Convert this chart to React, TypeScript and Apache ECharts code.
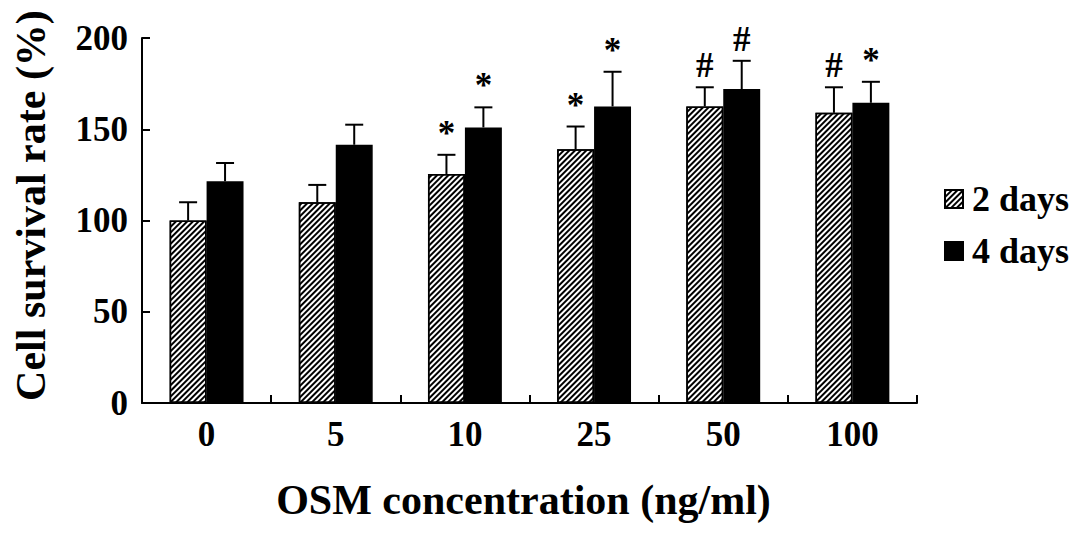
import React, { useEffect, useRef } from 'react';
import * as echarts from 'echarts';

const categories = ['0', '5', '10', '25', '50', '100'];
const days2 = [100, 110, 125.5, 139, 162.5, 159];
const days2Err = [10, 9.5, 10.5, 12.5, 10.5, 14];
const days4 = [121.5, 141.5, 151, 162.5, 172, 164.5];
const days4Err = [10, 11, 11, 19, 15.5, 11.5];
const days2Marks = ['', '', '*', '*', '#', '#'];
const days4Marks = ['', '', '*', '*', '#', '*'];
const seriesNames = ['2 days', '4 days'];
const yMin = 0;
const yMax = 200;
const yStep = 50;

const FONT = '"Liberation Serif", "Times New Roman", serif';
const BAR_RATIO = 0.286;

function errRender(sign: number, marks: string[]) {
  return (params: any, api: any) => {
    const i = api.value(0);
    const v = api.value(1);
    const e = api.value(2);
    const band = api.size([1, 0])[0];
    const dx = (sign * band * BAR_RATIO) / 2;
    const base = api.coord([i, v]);
    const top = api.coord([i, v + e]);
    const x = base[0] + dx;
    const children: any[] = [
      { type: 'line', shape: { x1: x, y1: base[1], x2: x, y2: top[1] }, style: { stroke: '#000', lineWidth: 2 } },
      { type: 'line', shape: { x1: x - 9, y1: top[1], x2: x + 9, y2: top[1] }, style: { stroke: '#000', lineWidth: 2 } },
    ];
    const m = marks[params.dataIndex];
    if (m) {
      children.push({
        type: 'text',
        x,
        y: top[1] - 4,
        style: {
          text: m,
          fill: '#000',
          fontSize: 35,
          fontWeight: 'bold',
          fontFamily: FONT,
          align: 'center',
          verticalAlign: 'bottom',
        },
      });
    }
    return { type: 'group', children };
  };
}

export default function App() {
  const ref = useRef<HTMLDivElement>(null);
  useEffect(() => {
    if (!ref.current) return;
    const chart = echarts.init(ref.current, null, { renderer: 'svg' });
    const labelStyle = { fontSize: 35, fontWeight: 'bold' as const, fontFamily: FONT, color: '#000' };
    chart.setOption({
      animation: false,
      backgroundColor: '#fff',
      grid: { left: 142, right: 170, top: 38, bottom: 132, containLabel: false },
      legend: {
        data: seriesNames,
        orient: 'vertical',
        left: 939,
        top: 176,
        icon: 'rect',
        itemWidth: 18,
        itemHeight: 18,
        itemGap: 16,
        textStyle: { ...labelStyle, fontSize: 36, padding: [0, 0, 0, 4] },
      },
      xAxis: {
        type: 'category',
        data: categories,
        boundaryGap: true,
        axisLine: { lineStyle: { color: '#000', width: 2 } },
        axisTick: { show: true, inside: true, length: 8, alignWithLabel: false, lineStyle: { color: '#000', width: 2 } },
        axisLabel: { ...labelStyle, margin: 14 },
        name: 'OSM concentration (ng/ml)',
        nameLocation: 'middle',
        nameGap: 76,
        nameTextStyle: { fontSize: 42, fontWeight: 'bold', fontFamily: FONT, color: '#000', padding: [0, 12, 0, 0] },
      },
      yAxis: {
        type: 'value',
        min: yMin,
        max: yMax,
        interval: yStep,
        axisLine: { show: true, lineStyle: { color: '#000', width: 2 } },
        axisTick: { show: true, inside: true, length: 8, lineStyle: { color: '#000', width: 2 } },
        splitLine: { show: false },
        axisLabel: { ...labelStyle, margin: 14 },
        name: 'Cell survival rate (%)',
        nameLocation: 'middle',
        nameGap: 90,
        nameTextStyle: { fontSize: 42, fontWeight: 'bold', fontFamily: FONT, color: '#000', padding: [0, 0, 0, 30] },
      },
      series: [
        {
          name: seriesNames[0],
          type: 'bar',
          data: days2,
          barWidth: BAR_RATIO * 100 + '%',
          barGap: '0%',
          itemStyle: {
            color: '#fff',
            borderColor: '#000',
            borderWidth: 1.5,
            decal: {
              symbol: 'rect',
              symbolSize: 1,
              color: '#000',
              backgroundColor: '#fff',
              dashArrayX: [1, 0],
              dashArrayY: [2, 2],
              rotation: -Math.PI / 4,
            },
          },
        },
        {
          name: seriesNames[1],
          type: 'bar',
          data: days4,
          barWidth: BAR_RATIO * 100 + '%',
          barGap: '0%',
          itemStyle: { color: '#000', borderColor: '#000', borderWidth: 1.5 },
        },
        {
          type: 'custom',
          name: 'err2',
          coordinateSystem: 'cartesian2d',
          data: days2.map((v, i) => [i, v, days2Err[i]]),
          encode: { x: 0, y: 1 },
          renderItem: errRender(-1, days2Marks),
          z: 5,
        },
        {
          type: 'custom',
          name: 'err4',
          coordinateSystem: 'cartesian2d',
          data: days4.map((v, i) => [i, v, days4Err[i]]),
          encode: { x: 0, y: 1 },
          renderItem: errRender(1, days4Marks),
          z: 5,
        },
      ],
    });
    return () => chart.dispose();
  }, []);
  return <div ref={ref} style={{ position: 'fixed', left: 0, top: 0, width: 1087, height: 535 }} />;
}
